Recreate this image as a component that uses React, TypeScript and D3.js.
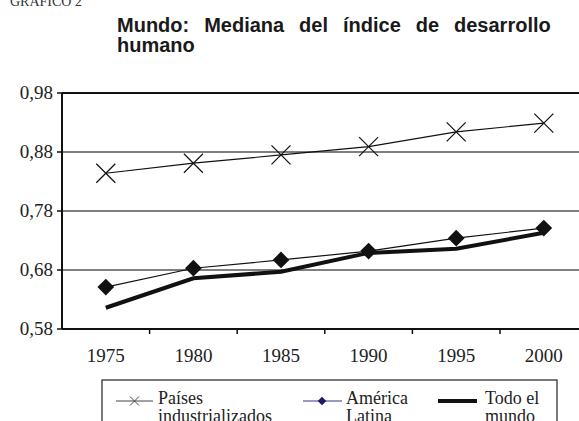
import React from 'react';
import * as d3 from 'd3';

const years = ['1975', '1980', '1985', '1990', '1995', '2000'];
const paisesInd = [0.844, 0.861, 0.875, 0.889, 0.914, 0.929];
const americaLatina = [0.651, 0.683, 0.697, 0.712, 0.734, 0.751];
const todoMundo = [0.616, 0.666, 0.677, 0.709, 0.716, 0.743];
const yTicks = [0.58, 0.68, 0.78, 0.88, 0.98];

const W = 579;
const H = 421;
const margin = { top: 93, left: 62, bottom: 329 };
const step = 87.6;

const serif = '"Liberation Serif", "Times New Roman", serif';
const sans = '"Liberation Sans", Arial, sans-serif';

const App: React.FC = () => {
  const x = d3.scaleBand<string>()
    .domain(years)
    .range([margin.left, margin.left + step * years.length]);
  const y = d3.scaleLinear().domain([0.58, 0.98]).range([margin.bottom, margin.top]);
  const cx = (yr: string) => (x(yr) as number) + x.bandwidth() / 2;

  const fmt = d3.formatLocale({ decimal: ',', thousands: '.', grouping: [3], currency: ['', ''] }).format('.2f');

  const line = d3.line<number>()
    .x((_, i) => cx(years[i]))
    .y(d => y(d));

  const diamond = d3.symbol(d3.symbolSquare, 140)();
  const right = x.range()[1];

  return (
    <svg width={W} height={H} style={{ position: 'absolute', left: 0, top: 0, background: '#fff' }}>
      <text x={10} y={6} fontFamily={serif} fontSize={14} fill="#333">GRÁFICO 2</text>
      <text x={117} y={32} fontFamily={sans} fontSize={20} fontWeight="bold" fill="#1a1a1a" wordSpacing={9.4}>
        Mundo: Mediana del índice de desarrollo
      </text>
      <text x={117} y={52} fontFamily={sans} fontSize={20} fontWeight="bold" fill="#1a1a1a">humano</text>

      {/* gridlines */}
      {yTicks.slice(1, 4).map(t => (
        <line key={t} x1={margin.left} x2={right} y1={y(t)} y2={y(t)} stroke="#555" strokeWidth={1.5} />
      ))}
      <line x1={margin.left} x2={right} y1={y(0.98)} y2={y(0.98)} stroke="#111" strokeWidth={2} />

      {/* axes */}
      <line x1={margin.left} x2={margin.left} y1={margin.top} y2={margin.bottom} stroke="#111" strokeWidth={2} />
      <line x1={margin.left} x2={right} y1={margin.bottom} y2={margin.bottom} stroke="#111" strokeWidth={2} />
      {yTicks.map(t => (
        <g key={t}>
          <line x1={margin.left - 5} x2={margin.left} y1={y(t)} y2={y(t)} stroke="#111" strokeWidth={1.5} />
          <text x={53} y={y(t) + 6} textAnchor="end" fontFamily={serif} fontSize={19} fill="#222">{fmt(t)}</text>
        </g>
      ))}
      {years.map((yr, i) => (
        <g key={yr}>
          {i > 0 && <line x1={x(yr)} x2={x(yr)} y1={margin.bottom} y2={margin.bottom + 5} stroke="#111" strokeWidth={1.5} />}
          <text x={cx(yr)} y={362} textAnchor="middle" fontFamily={serif} fontSize={19} fill="#222">{yr}</text>
        </g>
      ))}

      {/* series */}
      <path d={line(todoMundo) || ''} fill="none" stroke="#111" strokeWidth={4} />
      <path d={line(americaLatina) || ''} fill="none" stroke="#111" strokeWidth={1.2} />
      {americaLatina.map((v, i) => (
        <path key={i} d={diamond || ''} transform={`translate(${cx(years[i])},${y(v)}) rotate(45)`} fill="#111" />
      ))}
      <path d={line(paisesInd) || ''} fill="none" stroke="#111" strokeWidth={1.2} />
      {paisesInd.map((v, i) => {
        const px = cx(years[i]);
        const py = y(v);
        const r = 9.5;
        return (
          <g key={i} stroke="#111" strokeWidth={1.2}>
            <line x1={px - r} x2={px + r} y1={py - r} y2={py + r} />
            <line x1={px - r} x2={px + r} y1={py + r} y2={py - r} />
          </g>
        );
      })}

      {/* legend */}
      <rect x={102} y={380} width={455} height={60} fill="none" stroke="#222" strokeWidth={1.2} />
      <g fontFamily={serif} fontSize={18} fill="#222">
        <line x1={116} x2={153} y1={401} y2={401} stroke="#444" strokeWidth={1} />
        <g stroke="#444" strokeWidth={1}>
          <line x1={130} x2={139} y1={396.5} y2={405.5} />
          <line x1={130} x2={139} y1={405.5} y2={396.5} />
        </g>
        <text x={158} y={404}>Países</text>
        <text x={158} y={422}>industrializados</text>

        <line x1={303} x2={342} y1={401} y2={401} stroke="#333388" strokeWidth={1} />
        <path d={d3.symbol(d3.symbolSquare, 36)() || ''} transform="translate(322,401) rotate(45)" fill="#1a1a66" />
        <text x={346} y={404}>América</text>
        <text x={346} y={422}>Latina</text>

        <line x1={438} x2={477} y1={401} y2={401} stroke="#111" strokeWidth={4} />
        <text x={485} y={404}>Todo el</text>
        <text x={485} y={422}>mundo</text>
      </g>
    </svg>
  );
};

export default App;
